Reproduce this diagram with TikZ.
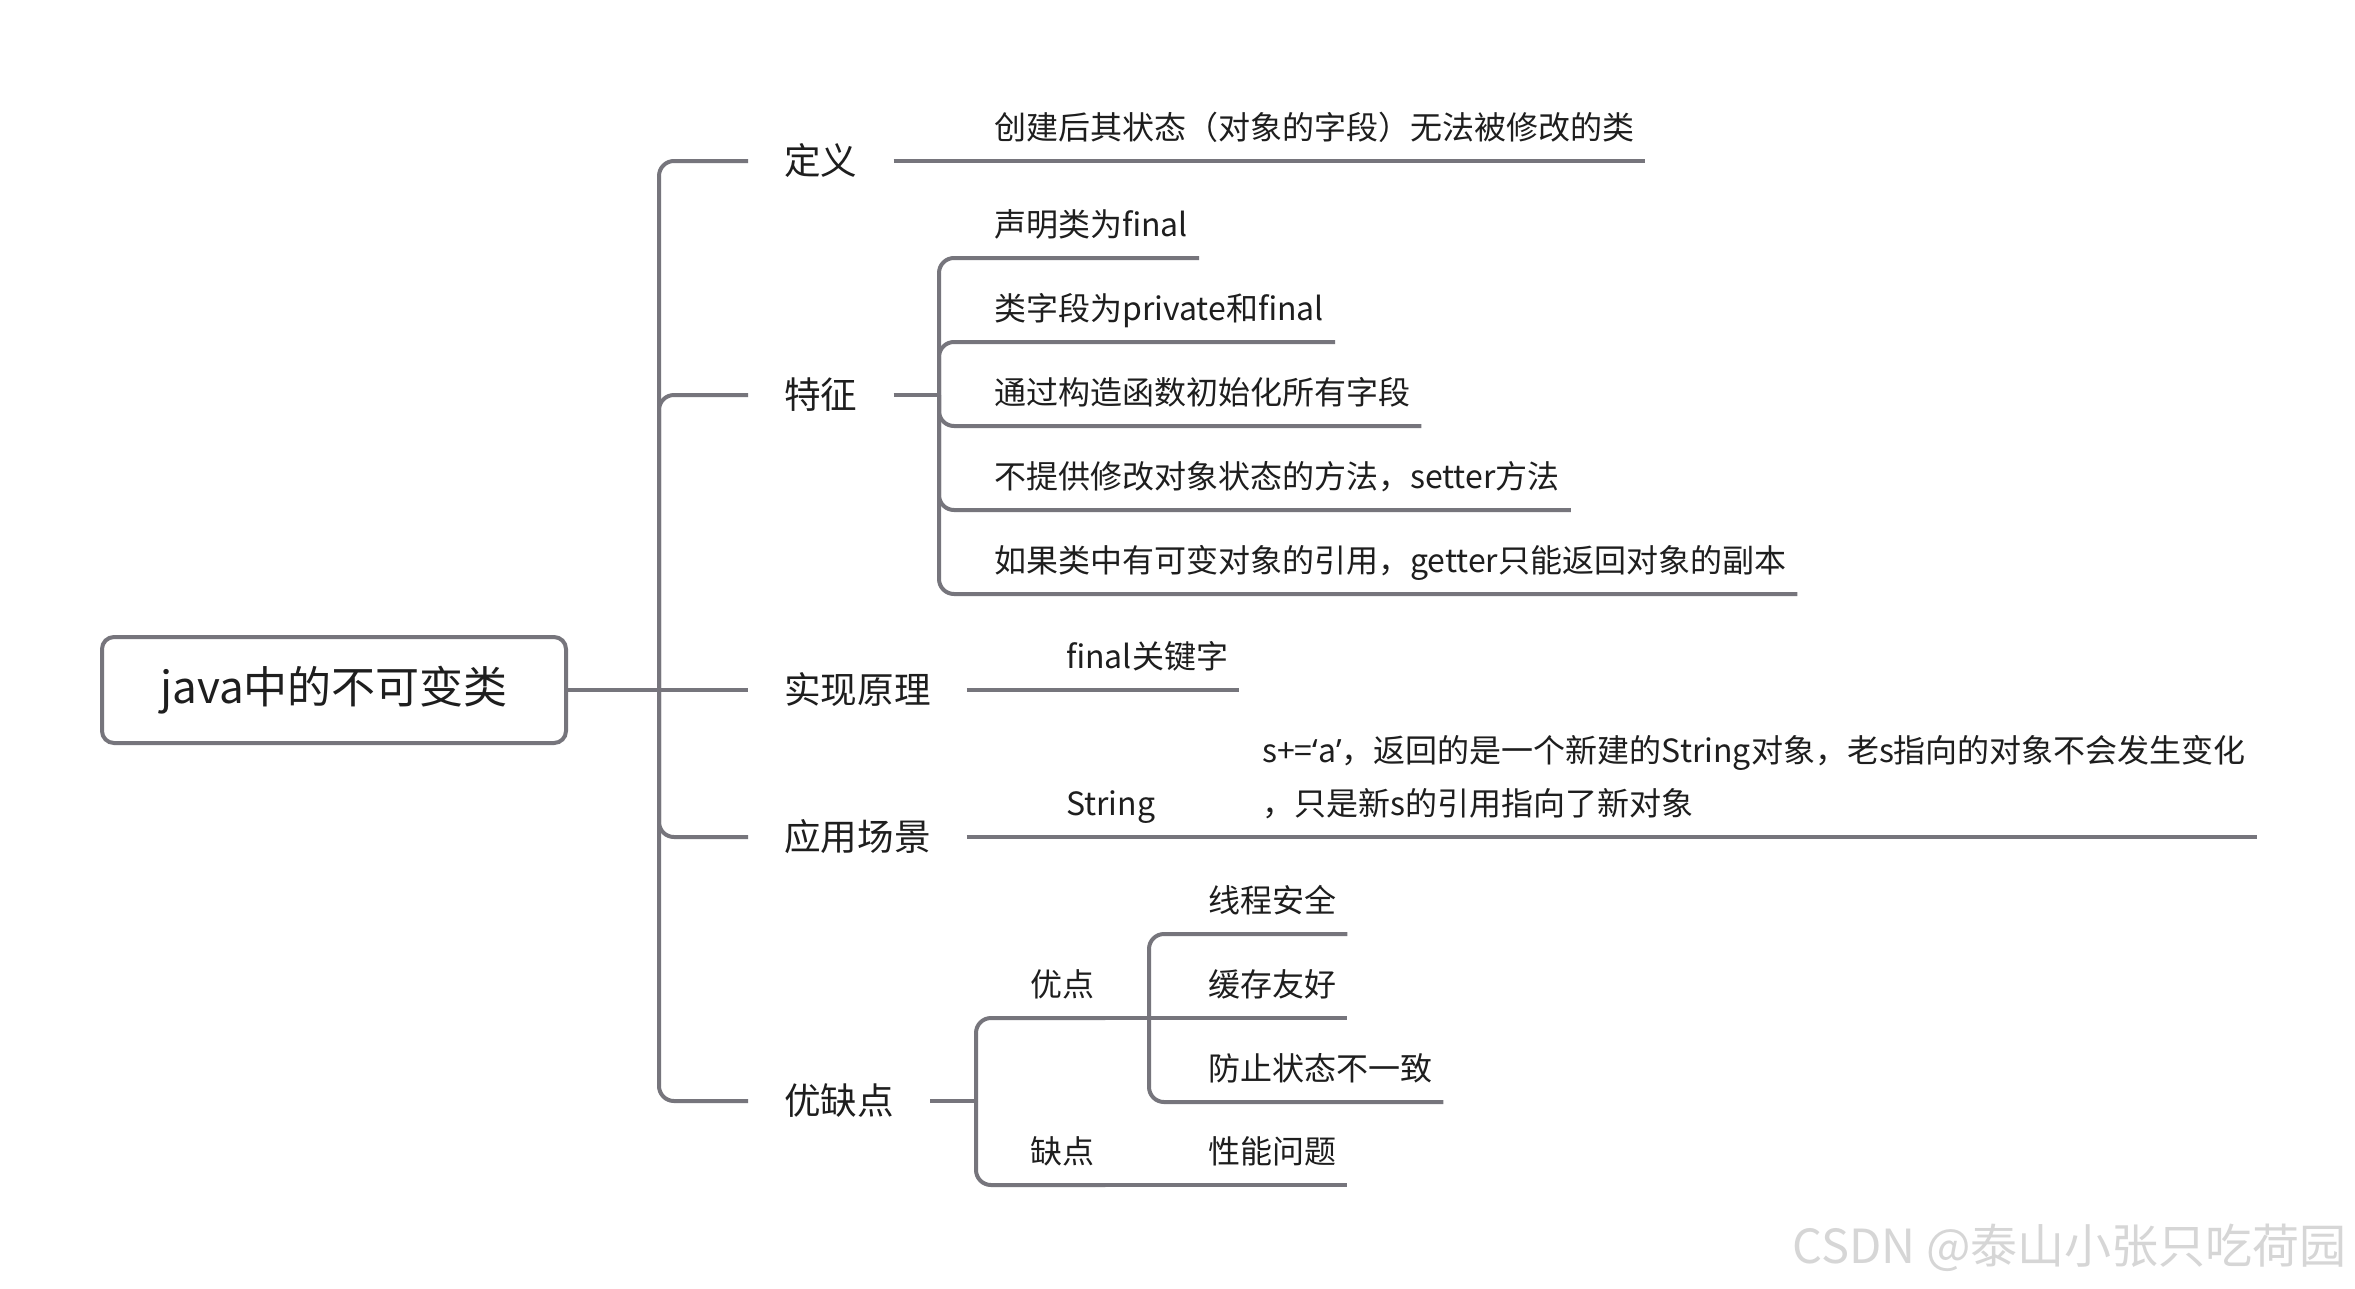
\documentclass[tikz,border=0pt]{standalone}
\usepackage{fontspec}
\setmainfont{Noto Sans CJK SC}
\newfontfamily\quotefont{Noto Sans}
\usepackage{tikz}
\usetikzlibrary{positioning}
\definecolor{linegray}{HTML}{76757C}
\definecolor{textdark}{HTML}{1E1E1E}
\tikzstyle{rootbox} = [rectangle, rounded corners=12pt, minimum width=464pt, minimum height=106pt, draw=linegray, line width=4pt, text=textdark, font=\fontsize{44}{52}\selectfont]
\tikzstyle{branch} = [anchor=west, inner xsep=36pt, inner ysep=0pt, text height=32.2pt, text depth=4.4pt, text=textdark, font=\fontsize{36.6}{44}\selectfont]
\tikzstyle{leaf} = [anchor=south west, inner xsep=11pt, inner ysep=18pt, text height=28.2pt, text depth=3.8pt, text=textdark, font=\fontsize{32}{53}\selectfont]
\tikzstyle{conn} = [draw=linegray, line width=4pt, rounded corners=15pt]

\begin{document}
\begin{tikzpicture}[x=1pt, y=-1pt]
	\fill[white] (0,0) rectangle (2355,1288);
	\useasboundingbox (0,0) rectangle (2355,1288);

	\node(root) [rootbox] at (334,690) {java中的不可变类};
	\coordinate(trunk) at (659,690);

	\node(dy) [branch] at (748,161) {定义};
	\node(tz) [branch] at (748,395) {特征};
	\node(sx) [branch] at (748,690) {实现原理};
	\node(yy) [branch] at (748,837) {应用场景};
	\node(yqd) [branch] at (748,1101) {优缺点};

	\node(dyleaf) [leaf] at (983,161) {创建后其状态（对象的字段）无法被修改的类};

	\coordinate(tzfork) at (939,395);
	\node(tz1) [leaf] at (983,258) {声明类为final};
	\node(tz2) [leaf, below=84pt of tz1.south west, anchor=south west] {类字段为private和final};
	\node(tz3) [leaf, below=84pt of tz2.south west, anchor=south west] {通过构造函数初始化所有字段};
	\node(tz4) [leaf, below=84pt of tz3.south west, anchor=south west] {不提供修改对象状态的方法，setter方法};
	\node(tz5) [leaf, below=84pt of tz4.south west, anchor=south west] {如果类中有可变对象的引用，getter只能返回对象的副本};

	\node(sxleaf) [leaf] at (1055,690) {final关键字};

	\node(str) [leaf] at (1055,837) {String};
	\node(strdesc) [leaf, align=left] at (1251,837) {s+={\quotefont ‘}a{\quotefont ’}，返回的是一个新建的String对象，老s指向的对象不会发生变化\\，只是新s的引用指向了新对象};

	\coordinate(yqfork) at (976,1101);
	\node(yd) [leaf] at (1019,1018) {优点};
	\node(qd) [leaf] at (1019,1185) {缺点};
	\coordinate(ydfork) at (1149,1018);
	\node(xc) [leaf] at (1197,934) {线程安全};
	\node(hc) [leaf, below=84pt of xc.south west, anchor=south west] {缓存友好};
	\node(fz) [leaf, below=84pt of hc.south west, anchor=south west] {防止状态不一致};
	\node(xn) [leaf] at (1197,1185) {性能问题};

	\node(mark) [anchor=east, text=black!16, font=\fontsize{47}{56}\selectfont] at (2350,1248) {CSDN @泰山小张只吃荷园};

	\draw[conn] (root.east) -- (trunk);
	\draw[conn] (trunk) |- (dy.west);
	\draw[conn] (trunk) |- (tz.west);
	\draw[conn] (trunk) -- (sx.west);
	\draw[conn] (trunk) |- (yy.west);
	\draw[conn] (trunk) |- (yqd.west);

	\draw[conn] (dy.east) -- (dyleaf.south east);

	\draw[conn] (tz.east) -- (tzfork);
	\draw[conn] (tzfork) |- (tz1.south east);
	\draw[conn] (tzfork) |- (tz2.south east);
	\draw[conn] (tzfork) |- (tz3.south east);
	\draw[conn] (tzfork) |- (tz4.south east);
	\draw[conn] (tzfork) |- (tz5.south east);

	\draw[conn] (sx.east) -- (sxleaf.south east);

	\draw[conn] (yy.east) -- (str.south east);
	\draw[conn] (str.south east) -- (strdesc.south east);

	\draw[conn] (yqd.east) -- (yqfork);
	\draw[conn] (yqfork) |- (yd.south east);
	\draw[conn] (yqfork) |- (qd.south east);
	\draw[conn] (yd.south east) -- (ydfork);
	\draw[conn] (ydfork) |- (xc.south east);
	\draw[conn] (ydfork) -- (hc.south east);
	\draw[conn] (ydfork) |- (fz.south east);
	\draw[conn] (qd.south east) -- (xn.south east);
\end{tikzpicture}
\end{document}
